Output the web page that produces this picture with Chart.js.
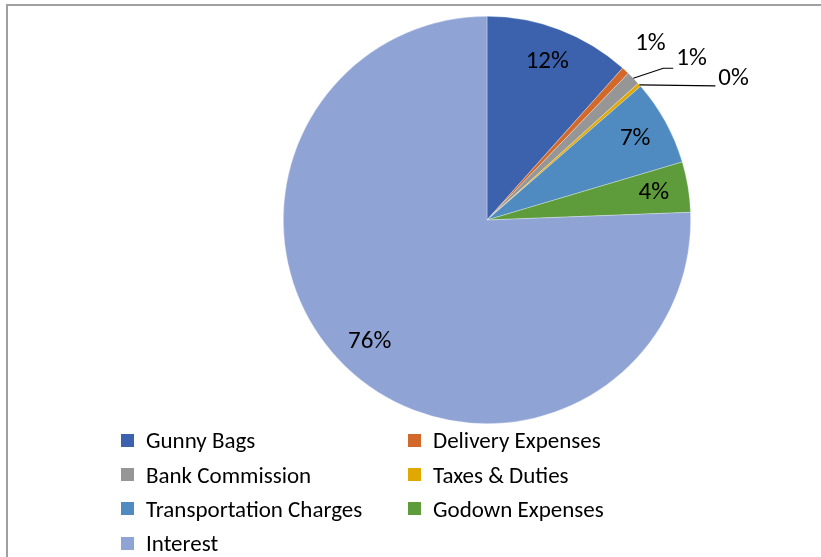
<!DOCTYPE html>
<html>
<head>
<meta charset="utf-8">
<script src="https://cdn.jsdelivr.net/npm/chart.js@4"></script>
<style>
    html, body { margin: 0; padding: 0; background: #fff; }
    #wrap { position: relative; width: 821px; height: 557px; overflow: hidden; }
    #frame { position: absolute; left: 6px; top: 4px; width: 830px; height: 600px;
             border-top: 2px solid #a0a0a0; border-left: 2px solid #a0a0a0; box-sizing: border-box; }
    #costChart { position: absolute; left: 0; top: 0; }
    #legend { position: absolute; left: 121px; top: 423px; display: grid;
              grid-template-columns: 287px 260px; grid-auto-rows: 34.4px;
              font-family: Carlito, Lato, sans-serif; font-size: 23px; color: #000; }
    #legend .item { display: flex; align-items: center; white-space: nowrap; }
    #legend .box { width: 13px; height: 13px; margin-right: 12px; }
</style>
</head>
<body>
<div id="wrap">
    <div id="frame"></div>
    <canvas id="costChart" width="821" height="557"></canvas>
    <div id="legend"></div>
</div>
<script>
// Expense breakdown (share of total, %)

const categories = [
    "Gunny Bags",
    "Delivery Expenses",
    "Bank Commission",
    "Taxes & Duties",
    "Transportation Charges",
    "Godown Expenses",
    "Interest"
];

const shares = [11.6, 0.6, 1.1, 0.3, 6.8, 4.0, 75.6];

const sliceColors = [
    "#3c62ad",
    "#d2692a",
    "#969696",
    "#e0a800",
    "#4f8bc0",
    "#5e9c3b",
    "#8fa3d5"
];

// labels for the thin slices sit outside the pie, some with a leader line
const callouts = {
    1: { r: 1.18 },
    2: { elbow: [30, -10], run: 10, lift: 0 },
    3: { elbow: [76, 1], run: 0, lift: 2 }
};

const pieLabels = {
    id: "pieLabels",
    afterDatasetsDraw(chart) {
        const ctx = chart.ctx;
        const total = shares.reduce((a, b) => a + b, 0);
        ctx.save();
        ctx.font = "25px Carlito, Lato, sans-serif";
        ctx.fillStyle = "#000";
        ctx.strokeStyle = "#000";
        ctx.lineWidth = 1.2;
        chart.getDatasetMeta(0).data.forEach((arc, i) => {
            const p = arc.getProps(["x", "y", "startAngle", "endAngle", "outerRadius"], true);
            const mid = (p.startAngle + p.endAngle) / 2;
            const text = Math.round(shares[i] / total * 100) + "%";
            const c = callouts[i];
            if (!c || c.r) {
                ctx.textAlign = "center";
                ctx.textBaseline = "middle";
                const r = p.outerRadius * (c ? c.r : 0.83);
                ctx.fillText(text, p.x + Math.cos(mid) * r, p.y + Math.sin(mid) * r);
            } else {
                const ex = p.x + Math.cos(mid) * p.outerRadius;
                const ey = p.y + Math.sin(mid) * p.outerRadius;
                const bx = ex + c.elbow[0];
                const by = ey + c.elbow[1];
                const tx = bx + c.run;
                ctx.beginPath();
                ctx.moveTo(ex, ey);
                ctx.lineTo(bx, by);
                ctx.lineTo(tx, by);
                ctx.stroke();
                ctx.textAlign = "left";
                ctx.textBaseline = "middle";
                ctx.fillText(text, tx + 3, by - 9 + c.lift);
            }
        });
        ctx.restore();
    }
};

const costChart = new Chart(document.getElementById("costChart"), {
    type: "pie",

    data: {
        labels: categories,
        datasets: [{
            data: shares,
            backgroundColor: sliceColors,
            borderColor: "rgba(255,255,255,0.5)",
            borderWidth: 0.6
        }]
    },

    options: {
        responsive: false,
        animation: false,
        layout: {
            padding: { left: 283, right: 130, top: 16, bottom: 133 }
        },
        plugins: {
            legend: { display: false },
            tooltip: { enabled: false }
        }
    },

    plugins: [pieLabels]
});

// two-column legend below the pie
const legendEl = document.getElementById("legend");
categories.forEach((name, i) => {
    const item = document.createElement("div");
    item.className = "item";
    const box = document.createElement("span");
    box.className = "box";
    box.style.background = sliceColors[i];
    item.appendChild(box);
    item.appendChild(document.createTextNode(name));
    legendEl.appendChild(item);
});
</script>
</body>
</html>
